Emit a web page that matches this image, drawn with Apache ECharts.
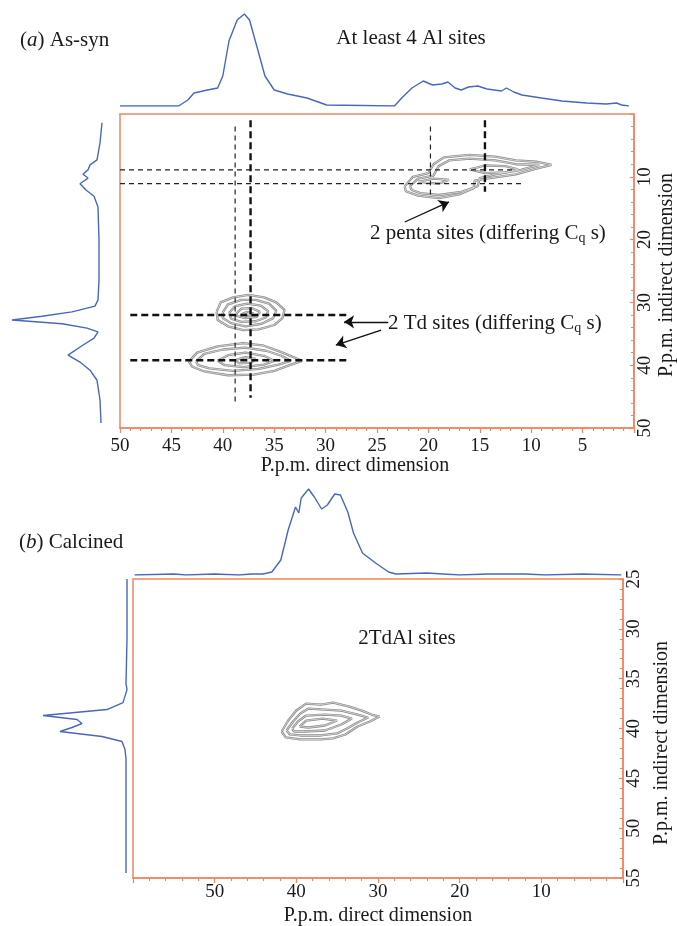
<!DOCTYPE html>
<html>
<head>
<meta charset="utf-8">
<script src="https://cdn.jsdelivr.net/npm/echarts@6/dist/echarts.min.js"></script>
<style>
  html, body { margin: 0; padding: 0; background: #fff; }
  #chart { width: 677px; height: 926px; }
</style>
</head>
<body>
<div id="chart"></div>
<script>
// 数据 (a) As-syn 顶部投影: 化学位移 / 强度
var topA_ppm = [50.0, 44.3, 43.4, 42.8, 41.5, 40.5, 40.0, 39.4, 38.6, 37.9, 37.4, 36.7, 35.9, 35.0, 33.7, 31.8, 29.9, 23.3, 22.6, 21.6, 20.5, 19.6, 18.7, 18.1, 17.4, 16.8, 16.1, 15.2, 14.3, 13.6, 12.9, 12.4, 11.7, 10.9, 9.0, 7.0, 4.6, 2.7, 1.7, 1.2, 0.5];
var topA_int = [0, 0, 6, 13, 16, 18, 30, 65, 86, 92, 86, 60, 30, 16, 12, 8, 1, 0, 8, 18, 25, 21, 22, 24, 18, 16, 19, 20, 17, 16, 15, 18, 14, 11, 8, 5, 3, 2, 3, 1, 0];

// (a) 左侧投影 (间接维)
var leftA_ppm = [1.4, 4.6, 7.3, 8.1, 8.9, 9.6, 10.2, 11.1, 12.1, 13.1, 14.8, 20.1, 26.4, 29.6, 30.6, 31.5, 32.2, 32.8, 33.4, 34.1, 34.7, 35.7, 36.9, 38.4, 39.5, 40.8, 42.4, 45.5, 49.2];
var leftA_int = [0, 2, 5, 12, 14, 19, 14, 22, 16, 8, 4, 3, 3, 4, 7, 30, 60, 90, 40, 15, 4, 8, 20, 34, 22, 12, 5, 2, 1];

// (b) Calcined 顶部投影
var topB_ppm = [59.8, 55.0, 53.5, 50.0, 47.0, 45.5, 44.1, 43.0, 41.9, 41.0, 40.1, 39.7, 39.4, 38.5, 37.8, 36.9, 36.2, 35.3, 34.6, 33.7, 33.0, 31.9, 30.3, 28.7, 27.8, 24.0, 20.0, 16.5, 12.0, 9.5, 5.0, 0.2];
var topB_int = [0, 1, 0, 1, 0, 1, 1, 3, 15, 45, 68, 62, 77, 86, 78, 66, 70, 81, 80, 63, 42, 22, 12, 3, 1, 2, 0, 1, 1, 0, 1, 0];

// (b) 左侧投影
var leftB_ppm = [25.0, 31.0, 35.5, 36.1, 37.4, 38.1, 38.7, 39.1, 39.5, 39.9, 40.3, 40.8, 41.3, 42.1, 43.1, 45.0, 54.5];
var leftB_int = [0, 0, 1, 0, 4, 20, 84, 50, 45, 55, 67, 25, 5, 2, 1, 1, 1];

// 等高线 (a) [直接维, 间接维]
var tdUpperA = [
  [[40.6, 31.5], [40.2, 30.0], [39.0, 29.2], [37.5, 28.8], [36.0, 29.2], [34.8, 30.0], [34.0, 31.2], [34.2, 32.5], [35.0, 33.6], [36.5, 34.3], [38.0, 34.4], [39.5, 33.8], [40.5, 32.8], [40.6, 31.5]],
  [[40.0, 31.6], [39.5, 30.3], [38.2, 29.6], [36.8, 29.6], [35.5, 30.2], [34.8, 31.3], [35.1, 32.5], [36.2, 33.4], [37.8, 33.8], [39.2, 33.3], [40.0, 32.5], [40.0, 31.6]],
  [[39.4, 31.7], [38.8, 30.6], [37.6, 30.2], [36.3, 30.5], [35.6, 31.4], [35.8, 32.4], [36.8, 33.0], [38.2, 33.1], [39.2, 32.6], [39.4, 31.7]],
  [[38.7, 31.8], [38.2, 31.0], [37.2, 30.9], [36.4, 31.5], [36.7, 32.3], [37.8, 32.5], [38.6, 32.2], [38.7, 31.8]],
  [[38.2, 31.9], [37.6, 31.5], [37.0, 31.8], [37.5, 32.2], [38.2, 31.9]]
];
var tdLowerA = [
  [[43.3, 39.4], [42.5, 38.0], [40.5, 37.0], [38.0, 36.5], [36.0, 36.9], [34.5, 37.8], [33.3, 38.6], [32.3, 39.3], [33.5, 40.0], [35.0, 40.9], [37.0, 41.5], [39.5, 41.6], [41.8, 41.0], [43.0, 40.2], [43.3, 39.4]],
  [[42.6, 39.4], [41.8, 38.2], [40.0, 37.5], [37.8, 37.2], [35.8, 37.7], [34.3, 38.5], [33.4, 39.3], [34.6, 39.9], [36.5, 40.6], [39.0, 40.9], [41.3, 40.5], [42.4, 40.0], [42.6, 39.4]],
  [[40.5, 39.3], [39.5, 38.4], [37.8, 38.0], [36.0, 38.5], [35.0, 39.3], [36.0, 39.9], [38.0, 40.3], [39.8, 40.0], [40.5, 39.3]],
  [[38.8, 39.2], [37.8, 38.7], [36.8, 39.0], [37.2, 39.6], [38.4, 39.7], [38.8, 39.2]]
];
var pentaA = [
  [[22.3, 11.5], [21.5, 10.0], [20.0, 9.4], [19.5, 8.0], [18.5, 6.9], [16.0, 6.5], [13.5, 6.8], [11.5, 7.4], [9.5, 7.6], [8.0, 8.1], [9.5, 8.7], [11.5, 9.6], [14.0, 10.2], [15.5, 10.6], [15.6, 11.8], [17.0, 12.8], [19.0, 13.4], [21.0, 13.0], [22.2, 12.3], [22.3, 11.5]],
  [[21.8, 11.5], [21.0, 10.3], [19.5, 9.8], [19.0, 8.3], [18.0, 7.4], [16.0, 7.1], [13.5, 7.4], [11.5, 8.0], [9.2, 8.1], [11.0, 8.9], [13.5, 9.6], [15.0, 10.2], [15.2, 11.5], [16.8, 12.4], [19.0, 12.9], [20.8, 12.6], [21.6, 12.1], [21.8, 11.5]],
  [[16.0, 8.8], [14.5, 8.2], [12.5, 8.3], [11.3, 8.8], [12.5, 9.3], [14.5, 9.4], [16.0, 8.8]],
  [[21.0, 10.8], [19.5, 10.3], [18.0, 10.5], [19.0, 11.1], [21.0, 10.8]]
];

// 等高线 (b)
var tdB = [
  [[41.8, 40.3], [41.0, 39.2], [40.0, 38.2], [38.8, 37.5], [37.0, 37.6], [35.5, 37.4], [33.5, 37.8], [32.0, 38.2], [30.8, 38.6], [29.8, 38.8], [31.0, 39.3], [32.5, 39.8], [34.0, 40.6], [35.5, 41.0], [37.0, 41.1], [39.5, 41.1], [41.3, 40.9], [41.8, 40.3]],
  [[41.2, 40.2], [40.4, 39.3], [39.5, 38.5], [38.5, 38.0], [36.5, 38.1], [34.5, 38.2], [32.5, 38.6], [31.2, 38.9], [32.5, 39.4], [33.8, 40.0], [35.0, 40.5], [37.0, 40.7], [39.5, 40.7], [40.8, 40.6], [41.2, 40.2]],
  [[40.5, 40.0], [39.8, 39.3], [38.8, 38.7], [36.5, 38.6], [34.5, 38.7], [33.2, 39.0], [34.5, 39.6], [36.5, 40.2], [39.0, 40.3], [40.3, 40.3], [40.5, 40.0]],
  [[39.6, 39.8], [38.8, 39.2], [36.8, 39.0], [35.0, 39.2], [36.5, 39.7], [38.5, 39.9], [39.6, 39.8]]
];

// 参考虚线 (a): [起点, 终点]
var guideThin = [
  [[38.8, 2.0], [38.8, 46.3]],
  [[19.8, 2.0], [19.8, 13.4]],
  [[50, 8.9], [11.5, 8.9]],
  [[50, 11.1], [11.0, 11.1]]
];
var guideThick = [
  [[37.3, 1.0], [37.3, 45.2]],
  [[14.5, 1.0], [14.5, 12.4]],
  [[49, 32.0], [27.7, 32.0]],
  [[49, 39.2], [27.7, 39.2]]
];

// 箭头 (a)
var arrowsA = [
  [[22.3, 17.2], [18.0, 14.0]],
  [[23.9, 33.1], [28.2, 33.1]],
  [[24.6, 34.4], [29.0, 36.8]]
];

var ORANGE = '#EE8660';
var BLUE = '#4A66BE';
var GREY = '#8a8a8a';
var SERIF = 'Liberation Serif';
var INK = '#1a1a1a';

var chart = echarts.init(document.getElementById('chart'));

function zip(xs, ys) {
  return xs.map(function (x, i) { return [x, ys[i]]; });
}

function lineSeries(data, xi, yi, style, z) {
  return {
    type: 'line',
    xAxisIndex: xi,
    yAxisIndex: yi,
    data: data,
    showSymbol: false,
    symbol: 'none',
    silent: true,
    animation: false,
    z: z || 2,
    lineStyle: style
  };
}

var hidden = { show: false };

function mainX(gi, max, interval, split, margin, hideMax) {
  return {
    gridIndex: gi, type: 'value', min: 0, max: max, interval: interval, inverse: true,
    axisLine: { onZero: false, lineStyle: { color: ORANGE, width: 1.5 } },
    axisTick: { length: 5, lineStyle: { color: ORANGE, width: 1.2 } },
    minorTick: { show: true, splitNumber: split, length: 3, lineStyle: { color: ORANGE } },
    axisLabel: { color: INK, fontFamily: SERIF, fontSize: 19, margin: margin, showMinLabel: false, showMaxLabel: !hideMax },
    splitLine: hidden
  };
}

function mainY(gi, min, max, interval, split, hideMin) {
  return {
    gridIndex: gi, type: 'value', min: min, max: max, interval: interval, inverse: true, position: 'right',
    axisLine: { onZero: false, lineStyle: { color: ORANGE, width: 1.5 } },
    axisTick: { inside: true, length: 4, lineStyle: { color: ORANGE, width: 1.2 } },
    minorTick: { show: true, splitNumber: split, length: 3, lineStyle: { color: ORANGE } },
    axisLabel: { color: INK, fontFamily: SERIF, fontSize: 19, rotate: 90, margin: 2, showMinLabel: !hideMin },
    splitLine: hidden
  };
}

function hiddenAxis(gi, min, max, inverse) {
  return { gridIndex: gi, type: 'value', min: min, max: max, inverse: inverse, show: false, axisLine: { onZero: false }, splitLine: hidden };
}

var series = [];

// 投影谱
series.push(lineSeries(zip(topA_ppm, topA_int), 1, 1, { color: BLUE, width: 1.4 }));
series.push(lineSeries(zip(leftA_int, leftA_ppm), 2, 2, { color: BLUE, width: 1.4 }));
series.push(lineSeries(zip(topB_ppm, topB_int), 4, 4, { color: BLUE, width: 1.4 }));
series.push(lineSeries(zip(leftB_int, leftB_ppm), 5, 5, { color: BLUE, width: 1.4 }));

// 等高线: 灰色双线效果
function addContours(site, gi) {
  site.forEach(function (level) {
    series.push(lineSeries(level, gi, gi, { color: GREY, width: 2.3 }, 2));
    series.push(lineSeries(level, gi, gi, { color: '#ececec', width: 0.7 }, 3));
  });
}
addContours(tdUpperA, 0);
addContours(tdLowerA, 0);
addContours(pentaA, 0);
addContours(tdB, 3);

// 虚线
guideThin.forEach(function (seg) {
  series.push(lineSeries(seg, 0, 0, { color: '#222', width: 1.2, type: [5, 4] }, 4));
});
guideThick.forEach(function (seg) {
  series.push(lineSeries(seg, 0, 0, { color: '#111', width: 2.4, type: [7, 4] }, 4));
});

// 箭头
series.push({
  type: 'line', xAxisIndex: 0, yAxisIndex: 0, data: [], silent: true, animation: false,
  markLine: {
    silent: true, animation: false,
    symbol: ['none', 'arrow'], symbolSize: 10,
    label: hidden,
    emphasis: { disabled: true },
    lineStyle: { color: '#111', width: 1.3, type: 'solid' },
    data: arrowsA.map(function (a) { return [{ coord: a[0] }, { coord: a[1] }]; })
  }
});

function label(x, y, text, align, size, extra) {
  var style = Object.assign({
    text: text, fontFamily: SERIF, fontSize: size, fill: INK,
    align: align, textAlign: align, verticalAlign: 'middle', textVerticalAlign: 'middle'
  }, extra || {});
  return { type: 'text', x: x, y: y, silent: true, style: style };
}
var rich21 = {
  n: { fontFamily: SERIF, fontSize: 21, fill: INK, lineHeight: 24 },
  s: { fontFamily: SERIF, fontSize: 14, fill: INK, lineHeight: 14, verticalAlign: 'bottom' },
  i: { fontFamily: SERIF, fontSize: 21, fill: INK, fontStyle: 'italic', lineHeight: 24 }
};

var option = {
  backgroundColor: '#fff',
  animation: false,
  grid: [
    { left: 120, right: 43, top: 114, height: 314, show: true, borderColor: ORANGE, borderWidth: 1.5 },
    { left: 120, right: 43, top: 6, height: 100 },
    { left: 8, width: 94, top: 114, height: 314 },
    { left: 133, right: 54, top: 579, height: 299, show: true, borderColor: ORANGE, borderWidth: 1.5 },
    { left: 133, right: 54, top: 485, height: 90 },
    { left: 30, width: 97, top: 579, height: 299 }
  ],
  xAxis: [
    mainX(0, 50, 5, 5, 9, false),
    hiddenAxis(1, 0, 50, true),
    hiddenAxis(2, 0, 94, true),
    mainX(3, 60, 10, 5, 5, true),
    hiddenAxis(4, 0, 60, true),
    hiddenAxis(5, 0, 97, true)
  ],
  yAxis: [
    mainY(0, 0, 50, 10, 5, true),
    hiddenAxis(1, 0, 100, false),
    hiddenAxis(2, 0, 50, true),
    mainY(3, 25, 55, 5, 5, false),
    hiddenAxis(4, 0, 90, false),
    hiddenAxis(5, 25, 55, true)
  ],
  series: series,
  graphic: [
    label(20, 40, '{n|(}{i|a}{n|) As-syn}', 'left', 21, { rich: rich21 }),
    label(411, 38, 'At least 4 Al sites', 'center', 21),
    label(370, 233, '{n|2 penta sites (differing C}{s|q}{n| s)}', 'left', 21, { rich: rich21 }),
    label(388, 323, '{n|2 Td sites (differing C}{s|q}{n| s)}', 'left', 21, { rich: rich21 }),
    label(355, 466, 'P.p.m. direct dimension', 'center', 20),
    label(667, 275, 'P.p.m. indirect dimension', 'center', 20),
    label(19, 542, '{n|(}{i|b}{n|) Calcined}', 'left', 21, { rich: rich21 }),
    label(407, 638, '2TdAl sites', 'center', 21),
    label(378, 916, 'P.p.m. direct dimension', 'center', 20),
    label(662, 743, 'P.p.m. indirect dimension', 'center', 20)
  ]
};
option.graphic[5].rotation = Math.PI / 2;
option.graphic[9].rotation = Math.PI / 2;

chart.setOption(option);
</script>
</body>
</html>
